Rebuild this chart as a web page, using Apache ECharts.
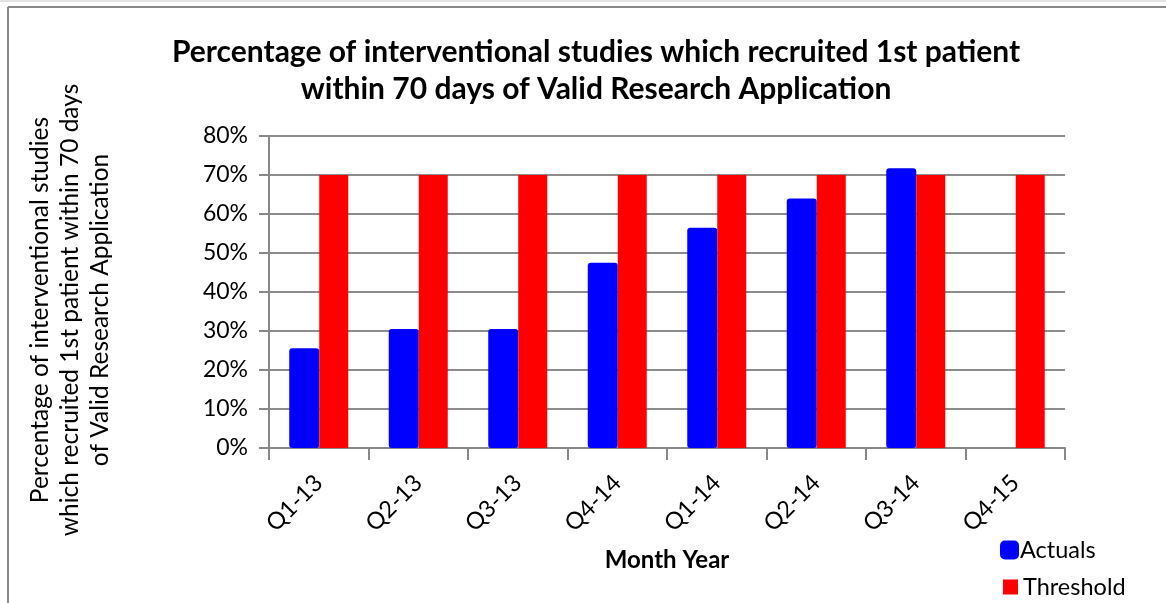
<!DOCTYPE html>
<html>
<head>
<meta charset="utf-8">
<script src="https://cdn.jsdelivr.net/npm/echarts@6/dist/echarts.min.js"></script>
<style>
html,body{margin:0;padding:0;background:#fff;}
#chart{width:1166px;height:603px;}
</style>
</head>
<body>
<div id="chart"></div>
<script>
const categories = ['Q1-13','Q2-13','Q3-13','Q4-14','Q1-14','Q2-14','Q3-14','Q4-15'];
const actuals = [25.6, 30.5, 30.5, 47.5, 56.5, 64.0, 71.7, null];
const threshold = [70, 70, 70, 70, 70, 70, 70, 70];
const titleText = 'Percentage of interventional studies which recruited 1st patient\nwithin 70 days of Valid Research Application';
const yAxisTitle = 'Percentage of interventional studies\nwhich recruited 1st patient within 70 days\nof Valid Research Application';
const xAxisTitle = 'Month Year';

const FONT = 'Lato, "Open Sans", sans-serif';
const legendText = {fontFamily: FONT, fontSize: 23.5, color: '#000', padding:[0,0,0,-4]};
const chart = echarts.init(document.getElementById('chart'), null, {renderer:'canvas'});
chart.setOption({
  animation: false,
  backgroundColor: '#fff',
  title: {
    text: titleText,
    left: 591, top: 29, textAlign: 'center',
    textStyle: {fontFamily: FONT, fontWeight: 'bold', fontSize: 30, lineHeight: 37, color: '#000'}
  },
  legend: [
    {orient: 'vertical', left: 995, top: 533, padding: 5,
     itemWidth: 19, itemHeight: 19, textStyle: legendText,
     data: [{name:'Actuals', icon:'roundRect'}]},
    {orient: 'vertical', left: 998, top: 570, padding: 5,
     itemWidth: 15, itemHeight: 15, textStyle: Object.assign({}, legendText, {padding:[0,0,0,0]}),
     data: [{name:'Threshold', icon:'rect'}]}
  ],
  graphic: [
    {type:'line', shape:{x1:8, y1:7, x2:1170, y2:7}, style:{stroke:'#888', lineWidth:2}},
    {type:'line', shape:{x1:8, y1:7, x2:8, y2:610}, style:{stroke:'#888', lineWidth:2}},
    {type:'line', shape:{x1:0, y1:1, x2:1170, y2:1}, style:{stroke:'#e4e4e4', lineWidth:2}},
    {type:'text', x:70, y:310, rotation:Math.PI/2,
     style:{text:yAxisTitle, fontFamily:FONT, fontSize:24.5, lineHeight:30, fill:'#000', textAlign:'center', textVerticalAlign:'middle'}},
    {type:'text', x:667, y:560,
     style:{text:xAxisTitle, fontFamily:FONT, fontSize:24, fontWeight:'bold', fill:'#000', textAlign:'center', textVerticalAlign:'middle'}}
  ],
  grid: {left: 269, right: 101, top: 136, bottom: 155, containLabel: false},
  xAxis: {
    type: 'category', data: categories,
    axisLine: {lineStyle: {color: '#888', width: 2}},
    axisTick: {show: true, length: 12, lineStyle: {color: '#888', width: 2}, alignWithLabel: false},
    axisLabel: {rotate: 45, margin: 31, fontFamily: FONT, fontSize: 23.5, color: '#000'}
  },
  yAxis: {
    type: 'value', min: 0, max: 80, interval: 10,
    axisLine: {show: true, lineStyle: {color: '#888', width: 2}},
    axisTick: {show: true, length: 10, lineStyle: {color: '#888', width: 2}},
    axisLabel: {formatter: '{value}%', margin: 21, fontFamily: FONT, fontSize: 23, color: '#000'},
    splitLine: {lineStyle: {color: '#8c8c8c', width: 2}}
  },
  series: [
    {name:'Actuals', type:'bar', data: actuals, barWidth: 30, barGap: '0%',
     itemStyle:{color:'#0000ff', borderRadius:3}},
    {name:'Threshold', type:'bar', data: threshold, barWidth: 29, barGap: '0%',
     itemStyle:{color:'#ff0000'}}
  ]
});
</script>
</body>
</html>
